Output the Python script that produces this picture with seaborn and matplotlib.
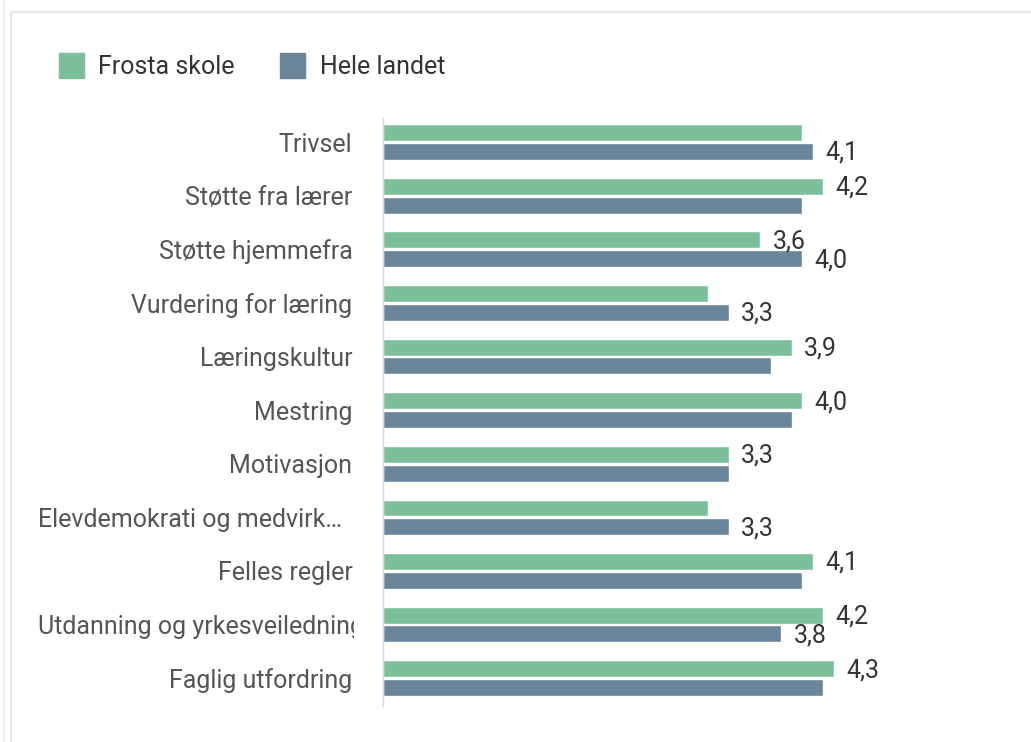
import pandas as pd
import matplotlib.pyplot as plt
import seaborn as sns
from matplotlib.transforms import Bbox, TransformedBbox, ScaledTranslation
from matplotlib.lines import Line2D

# ----
# Data
# ----
categories = ['Trivsel', 'Støtte fra lærer', 'Støtte hjemmefra', 'Vurdering for læring',
              'Læringskultur', 'Mestring', 'Motivasjon', 'Elevdemokrati og medvirk…',
              'Felles regler', 'Utdanning og yrkesveiledning', 'Faglig utfordring']
frosta = [4.0, 4.2, 3.6, 3.1, 3.9, 4.0, 3.3, 3.1, 4.1, 4.2, 4.3]
landet = [4.1, 4.0, 4.0, 3.3, 3.7, 3.9, 3.3, 3.3, 4.0, 3.8, 4.2]
# which bars carry a value label in the original
show_frosta = [False, True, True, False, True, True, True, False, True, True, True]
show_landet = [True, False, True, True, False, False, False, True, False, True, False]
series = ['Frosta skole', 'Hele landet']
colors = ['#7dbf9b', '#6b869b']

df = pd.DataFrame({
    'kategori': categories * 2,
    'verdi': frosta + landet,
    'gruppe': [series[0]] * len(categories) + [series[1]] * len(categories),
})

# -----
# Plot
# -----
sns.set_style('white')
plt.rcParams['font.family'] = ['Roboto', 'DejaVu Sans']
fs = 18

fig = plt.figure(figsize=(10.31, 7.42), dpi=100)
W, H = 1031, 742
ax = fig.add_axes([383 / W, 36 / H, 524 / W, 588 / H])

sns.barplot(data=df, y='kategori', x='verdi', hue='gruppe', order=categories,
            hue_order=series, palette=colors, orient='h', width=0.7, gap=0.1,
            saturation=1, ax=ax, legend=False)

ax.set_xlim(0, 5)
ax.set_ylim(10.52, -0.45)
ax.set_xlabel('')
ax.set_ylabel('')
ax.set_xticks([])
sns.despine(ax=ax, top=True, right=True, bottom=True, left=False)
ax.spines['left'].set_color('#ccd6eb')
ax.spines['left'].set_linewidth(1)
ax.tick_params(axis='y', length=0, pad=22, labelsize=fs, labelcolor='#555555')

# value labels
for cont, vals, show in zip(ax.containers, [frosta, landet], [show_frosta, show_landet]):
    for bar, v, s in zip(cont, vals, show):
        if not s:
            continue
        ax.annotate(f'{v:.1f}'.replace('.', ','),
                    xy=(bar.get_width(), bar.get_y() + bar.get_height() / 2),
                    xytext=(9, -1), textcoords='offset points',
                    va='center', ha='left', fontsize=fs, color='#333333')

# legend
handles = [Line2D([], [], marker='s', linestyle='', markersize=18,
                  markerfacecolor=c, markeredgecolor=c) for c in colors]
fig.legend(handles, series, loc='upper left', bbox_to_anchor=(58 / W, 1 - 55 / H),
           ncol=2, frameon=False, fontsize=fs, labelcolor='#333333',
           borderpad=0, borderaxespad=0,
           handlelength=1.0, handletextpad=0.6, columnspacing=1.8)

# long labels: start at a fixed left edge and are clipped at the label area
fig.canvas.draw()
renderer = fig.canvas.get_renderer()
clip = TransformedBbox(Bbox.from_extents(0, 0, 354 / W, 1), fig.transFigure)
for lbl in ax.get_yticklabels():
    lbl.set_clip_on(True)
    lbl.set_clip_box(clip)
    x0 = lbl.get_window_extent(renderer).x0
    if x0 < 60:
        lbl.set_transform(lbl.get_transform() + ScaledTranslation((38 - x0) / 100, 0, fig.dpi_scale_trans))

# card border
fig.add_artist(Line2D([11 / W, 1], [1 - 12 / H, 1 - 12 / H], transform=fig.transFigure,
                      color='#e6e6e6', linewidth=1.5))
fig.add_artist(Line2D([11 / W, 11 / W], [0, 1 - 12 / H], transform=fig.transFigure,
                      color='#e6e6e6', linewidth=1.5))
fig.add_artist(Line2D([4 / W, 4 / W], [0, 1], transform=fig.transFigure,
                      color='#eeeeee', linewidth=1.5))

fig.savefig('out.png', dpi=100)
